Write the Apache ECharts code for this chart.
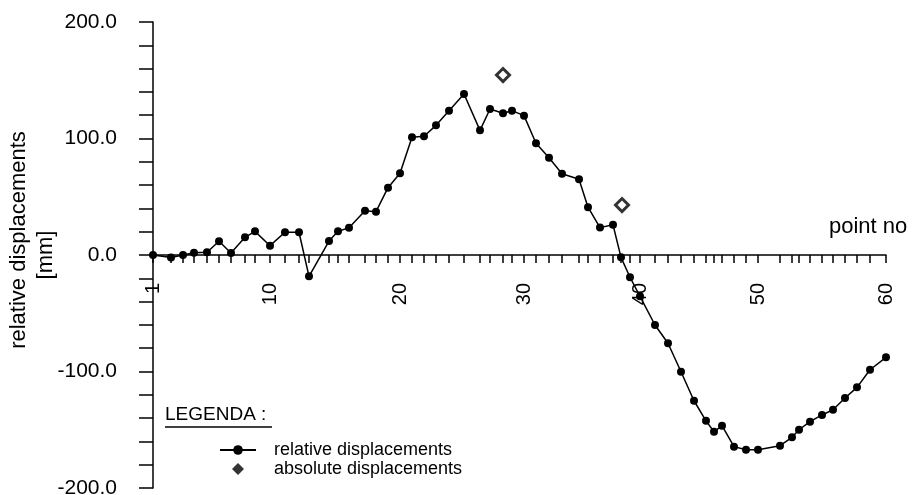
<!DOCTYPE html>
<html>
<head>
<meta charset="utf-8">
<script src="https://cdn.jsdelivr.net/npm/echarts@6/dist/echarts.min.js"></script>
<style>html,body{margin:0;padding:0;background:#fff}#c{width:921px;height:495px}</style>
</head>
<body>
<div id="c"></div>
<script>
// point numbers and their chainage along the profile
const pointNo = [1,2,3,4,5,6,7,8,9,10,11,12,13,14,15,16,17,18,19,20,21,22,23,24,25,26,27,28,29,30,31,32,33,34,35,36,37,38,39,40,41,42,43,44,45,46,47,48,49,50,51,52,53,54,55,56,57,58,59,60];
const chainage = [0,1.8,3.0,4.1,5.4,6.6,7.8,9.2,10.2,11.7,13.2,14.6,15.6,17.6,18.5,19.6,21.2,22.3,23.5,24.7,25.9,27.1,28.3,29.6,31.1,32.7,33.7,35.0,35.9,37.1,38.3,39.6,40.9,42.6,43.5,44.7,46.0,46.8,47.7,48.7,50.2,51.5,52.8,54.1,55.3,56.1,56.9,58.1,59.3,60.5,62.7,63.9,64.6,65.7,66.9,68.0,69.2,70.4,71.7,73.3];
// relative displacements [mm]
const relDisp = [0,-2.2,0,2,2.3,11.8,1.7,15.2,20.3,8,19.5,19.5,-18.3,12,20.3,23.4,38,37.2,57.8,70.1,101,101.9,111.3,123.9,138.2,107,125.3,121.6,123.9,119.6,95.9,83.5,69.8,65,41,23.5,26,-2,-19.1,-35.5,-60.1,-75.8,-100.2,-125.1,-142.3,-151.8,-146.5,-164.5,-167.1,-167.1,-163.7,-156.5,-150,-143.1,-137.3,-132.8,-122.7,-113.6,-98.5,-87.8];
// absolute displacements [mm]
const absChainage = [35.0, 46.9];
const absDisp = [154.5, 42.9];
// labelled point numbers on the x axis
const xLabelPoints = [1,10,20,30,40,50,60];
const yLabelValues = [-200,-100,0,100,200];

const FONT = '"Liberation Sans", Arial, sans-serif';
const GRID = { left: 153, right: 35, top: 22, bottom: 7 };
const H = 495;
const chart = echarts.init(document.getElementById('c'));
const relData = chainage.map((x, i) => [x, relDisp[i]]);
const absData = absChainage.map((x, i) => [x, absDisp[i]]);
// move the x axis from grid bottom up to the zero line (y range symmetric)
const plotH = H - GRID.top - GRID.bottom;
const zeroOffset = -plotH / 2;

chart.setOption({
  animation: false,
  backgroundColor: '#fff',
  grid: Object.assign({ containLabel: false, outerBoundsMode: 'none' }, GRID),
  xAxis: {
    type: 'value', min: 0, max: chainage[chainage.length - 1],
    position: 'bottom', offset: zeroOffset,
    axisLine: { onZero: false, lineStyle: { color: '#000', width: 1.5 } },
    axisTick: { show: true, length: 8, lineStyle: { color: '#000', width: 1.5 }, customValues: chainage },
    axisLabel: {
      rotate: 90, margin: 28, color: '#000', fontFamily: FONT, fontSize: 20,
      customValues: xLabelPoints.map(p => chainage[p - 1]),
      formatter: v => { const i = chainage.indexOf(v); return i >= 0 ? String(pointNo[i]) : ''; }
    },
    splitLine: { show: false }
  },
  yAxis: {
    type: 'value', min: -200, max: 200, interval: 20,
    axisLine: { show: true, onZero: false, lineStyle: { color: '#000', width: 1.5 } },
    axisTick: { show: true, length: 14, lineStyle: { color: '#000', width: 1.5 } },
    axisLabel: {
      margin: 36, color: '#000', fontFamily: FONT, fontSize: 21,
      formatter: v => yLabelValues.indexOf(v) >= 0 ? v.toFixed(1) : ''
    },
    splitLine: { show: false }
  },
  legend: {
    orient: 'vertical', left: 214, top: 436, itemWidth: 36, itemHeight: 12, itemGap: 1,
    textStyle: { color: '#000', fontFamily: FONT, fontSize: 18, padding: [0, 0, 0, 13] },
    data: [
      { name: 'relative displacements' },
      { name: 'absolute displacements', icon: 'path://M0,0 M36,12 M12,6 L18,0 L24,6 L18,12 Z',
        itemStyle: { color: '#000', borderColor: '#000', borderWidth: 0 } }
    ]
  },
  graphic: [
    { type: 'text', x: 19, y: 240, rotation: Math.PI / 2,
      style: { text: 'relative displacements', font: '22px ' + FONT, fill: '#000', align: 'center', verticalAlign: 'middle' } },
    { type: 'text', x: 46, y: 255, rotation: Math.PI / 2,
      style: { text: '[mm]', font: '22px ' + FONT, fill: '#000', align: 'center', verticalAlign: 'middle' } },
    { type: 'text', x: 829, y: 227,
      style: { text: 'point no', font: '22px ' + FONT, fill: '#000', align: 'left', verticalAlign: 'middle' } },
    { type: 'text', x: 165, y: 415,
      style: { text: 'LEGENDA :', font: '19px ' + FONT, fill: '#000', align: 'left', verticalAlign: 'middle' } },
    { type: 'line', shape: { x1: 165, y1: 427, x2: 272, y2: 427 }, style: { stroke: '#000', lineWidth: 1.5 } }
  ],
  series: [
    {
      name: 'relative displacements', type: 'line', data: relData,
      symbol: 'circle', symbolSize: 8,
      lineStyle: { color: '#000', width: 1.5 },
      itemStyle: { color: '#000' }, z: 3
    },
    {
      name: 'absolute displacements', type: 'scatter', data: absData,
      symbol: 'diamond', symbolSize: 13,
      itemStyle: { color: '#fff', borderColor: '#000', borderWidth: 3 }, z: 4
    }
  ]
});
</script>
</body>
</html>
